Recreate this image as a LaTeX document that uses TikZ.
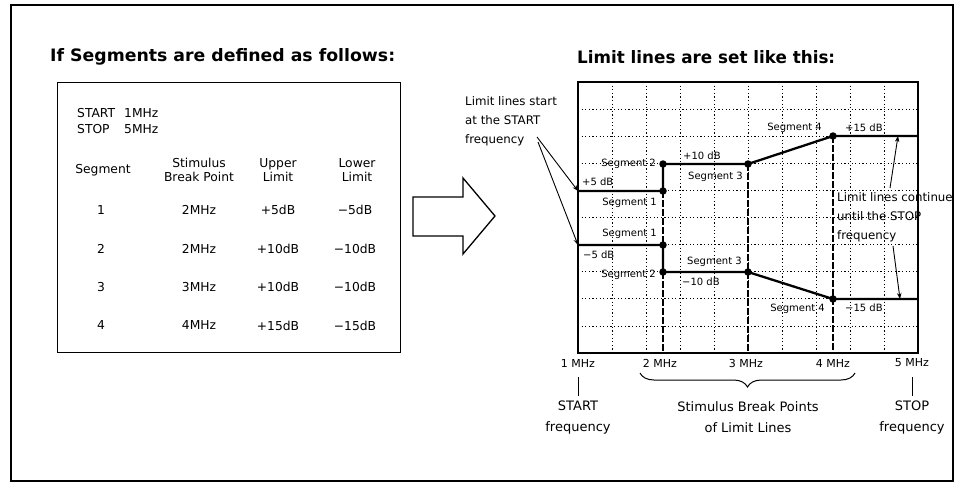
\documentclass[tikz,border=0pt]{standalone}
\usepackage{fontspec}
\setmainfont{DejaVu Sans}
\usetikzlibrary{decorations.pathreplacing,arrows.meta}
\begin{document}
\begin{tikzpicture}[x=1pt,y=-1pt,
  txt/.style={inner sep=0pt, font=\fontsize{12.3}{14}\selectfont},
  lbl/.style={inner sep=0pt, font=\fontsize{10}{12}\selectfont},
  axl/.style={inner sep=0pt, font=\fontsize{11}{13}\selectfont},
  note/.style={inner sep=0pt, align=left, font=\fontsize{11.8}{19}\selectfont},
  bottomnote/.style={inner sep=0pt, align=center, font=\fontsize{13}{21}\selectfont},
  gridline/.style={line width=0.7pt, dash pattern=on 1.2pt off 2.4pt},
  limitline/.style={line width=2.3pt, line join=round},
  breakline/.style={line width=1.1pt, dash pattern=on 7pt off 2pt},
  bpdot/.style={circle, fill=black, inner sep=0pt, minimum size=7.5pt},
  callout/.style={line width=0.9pt, -{Stealth[length=6pt,width=4.5pt]}},
]
\useasboundingbox (0,0) rectangle (955,487);
% outer frame
\draw[line width=1.6pt] (11,5) rectangle (953,481);

% ---------- left part ----------
\node[anchor=west, inner sep=0pt] (ltitle) at (50,57)
  {\resizebox{345pt}{13pt}{\bfseries If Segments are defined as follows:}};
\draw[line width=1pt] (57,82) rectangle (400,352);

\node[txt, anchor=west] (startw) at (77,113) {START};
\node[txt, anchor=west] (startv) at (124,113) {1MHz};
\node[txt, anchor=west] (stopw) at (77,129) {STOP};
\node[txt, anchor=west] (stopv) at (124,129) {5MHz};

\node[txt] (hseg) at (103,170) {Segment};
\node[txt, align=center] (hbp) at (199,170) {Stimulus\\Break Point};
\node[txt, align=center] (hup) at (278,170) {Upper\\Limit};
\node[txt, align=center] (hlo) at (357,170) {Lower\\Limit};

\foreach \n/\yy/\f/\u/\l in {1/210/2MHz/+5dB/−5dB, 2/248.5/2MHz/+10dB/−10dB,
    3/287/3MHz/+10dB/−10dB, 4/325.5/4MHz/+15dB/−15dB}{
  \node[txt] (rn\n) at (101,\yy) {\n};
  \node[txt] (rf\n) at (199,\yy) {\f};
  \node[txt] (ru\n) at (278,\yy) {\u};
  \node[txt] (rl\n) at (355,\yy) {\l};
}

% big arrow
\draw[line width=1.3pt, line join=miter] (413,197) -- (463,197) -- (463,178) -- (495,216)
  -- (463,254) -- (463,236) -- (413,236) -- cycle;

% ---------- right part ----------
\node[anchor=west, inner sep=0pt] (rtitle) at (577,57)
  {\resizebox{258pt}{13pt}{\bfseries Limit lines are set like this:}};

% grid
\foreach \i in {1,...,9}{
  \draw[gridline] ({578+34*\i},82) -- ({578+34*\i},353);
  \draw[gridline] (578,{82+27.1*\i}) -- (918,{82+27.1*\i});
}
\draw[line width=1.3pt] (578,82) rectangle (918,353);

% break point verticals
\draw[breakline] (663,191) -- (663,353);
\draw[breakline] (748,164) -- (748,353);
\draw[breakline] (833,136) -- (833,353);

% limit lines
\coordinate (us) at (578,191);
\coordinate (ue) at (918,136);
\coordinate (ls) at (578,245);
\coordinate (le) at (918,299);
\node[bpdot] (u1) at (663,191) {};
\node[bpdot] (u2) at (663,164) {};
\node[bpdot] (u3) at (748,164) {};
\node[bpdot] (u4) at (833,136) {};
\node[bpdot] (l1) at (663,245) {};
\node[bpdot] (l2) at (663,272) {};
\node[bpdot] (l3) at (748,272) {};
\node[bpdot] (l4) at (833,299) {};
\draw[limitline] (us) -- (u1.center) -- (u2.center) -- (u3.center) -- (u4.center) -- (ue);
\draw[limitline] (ls) -- (l1.center) -- (l2.center) -- (l3.center) -- (l4.center) -- (le);

% segment labels
\node[lbl, anchor=east] (tu2) at (656,164) {Segment 2};
\node[lbl, anchor=west] (tu10) at (683,156) {+10 dB};
\node[lbl, anchor=west] (tu3) at (688,177) {Segment 3};
\node[lbl, anchor=west] (tu5) at (582,182) {+5 dB};
\node[lbl, anchor=east] (tu1) at (657,203) {Segment 1};
\node[lbl, anchor=east] (tl1) at (657,234) {Segment 1};
\node[lbl, anchor=west] (tl5) at (583,255) {−5 dB};
\node[lbl, anchor=east] (tl2) at (656,275) {Segment 2};
\node[lbl, anchor=west] (tl3) at (687,262) {Segment 3};
\node[lbl, anchor=west] (tl10) at (682,282) {−10 dB};
\node[lbl, anchor=east] (tl4) at (825,309) {Segment 4};
\node[lbl, anchor=west] (tl15) at (845,308) {−15 dB};
\node[lbl, anchor=east] (tu4) at (822,128) {Segment 4};
\node[lbl, anchor=west] (tu15) at (845,128) {+15 dB};

% callouts
\node[note, anchor=west] (lstart) at (465,121) {Limit lines start\\at the START\\frequency};
\coordinate (fqa) at (537,137);
\coordinate (fqb) at (538,142);
\draw[callout] (fqa) -- (us);
\draw[callout] (fqb) -- (ls);

\node[note, anchor=west] (lcont) at (837,217) {Limit lines continue\\until the STOP\\frequency};
\coordinate (rca) at (890,188);
\coordinate (rcb) at (893,246);
\coordinate (ut) at (898,136);
\coordinate (lt) at (900,299);
\draw[callout] (rca) -- (ut);
\draw[callout] (rcb) -- (lt);

% axis labels
\node[axl] (ax1) at (578,363) {1 MHz};
\node[axl] (ax2) at (660,363) {2 MHz};
\node[axl] (ax3) at (746,363) {3 MHz};
\node[axl] (ax4) at (833,363) {4 MHz};
\node[axl] (ax5) at (912,363) {5 MHz};

\node[bottomnote] (startlbl) at (578,417.5) {START\\frequency};
\node[bottomnote] (stoplbl) at (912,417.5) {STOP\\frequency};
\node[bottomnote] (bplbl) at (748,417.5) {Stimulus Break Points\\of Limit Lines};

\draw[line width=0.9pt] ([yshift=-10pt]ax1.south) -- ([yshift=5pt]startlbl.north);
\draw[line width=0.9pt] ([yshift=-10pt]ax5.south) -- ([yshift=5pt]stoplbl.north);

\draw[decorate, decoration={brace, mirror, amplitude=14pt}, line width=1pt] (640,373) -- (855,373);
\end{tikzpicture}
\end{document}
